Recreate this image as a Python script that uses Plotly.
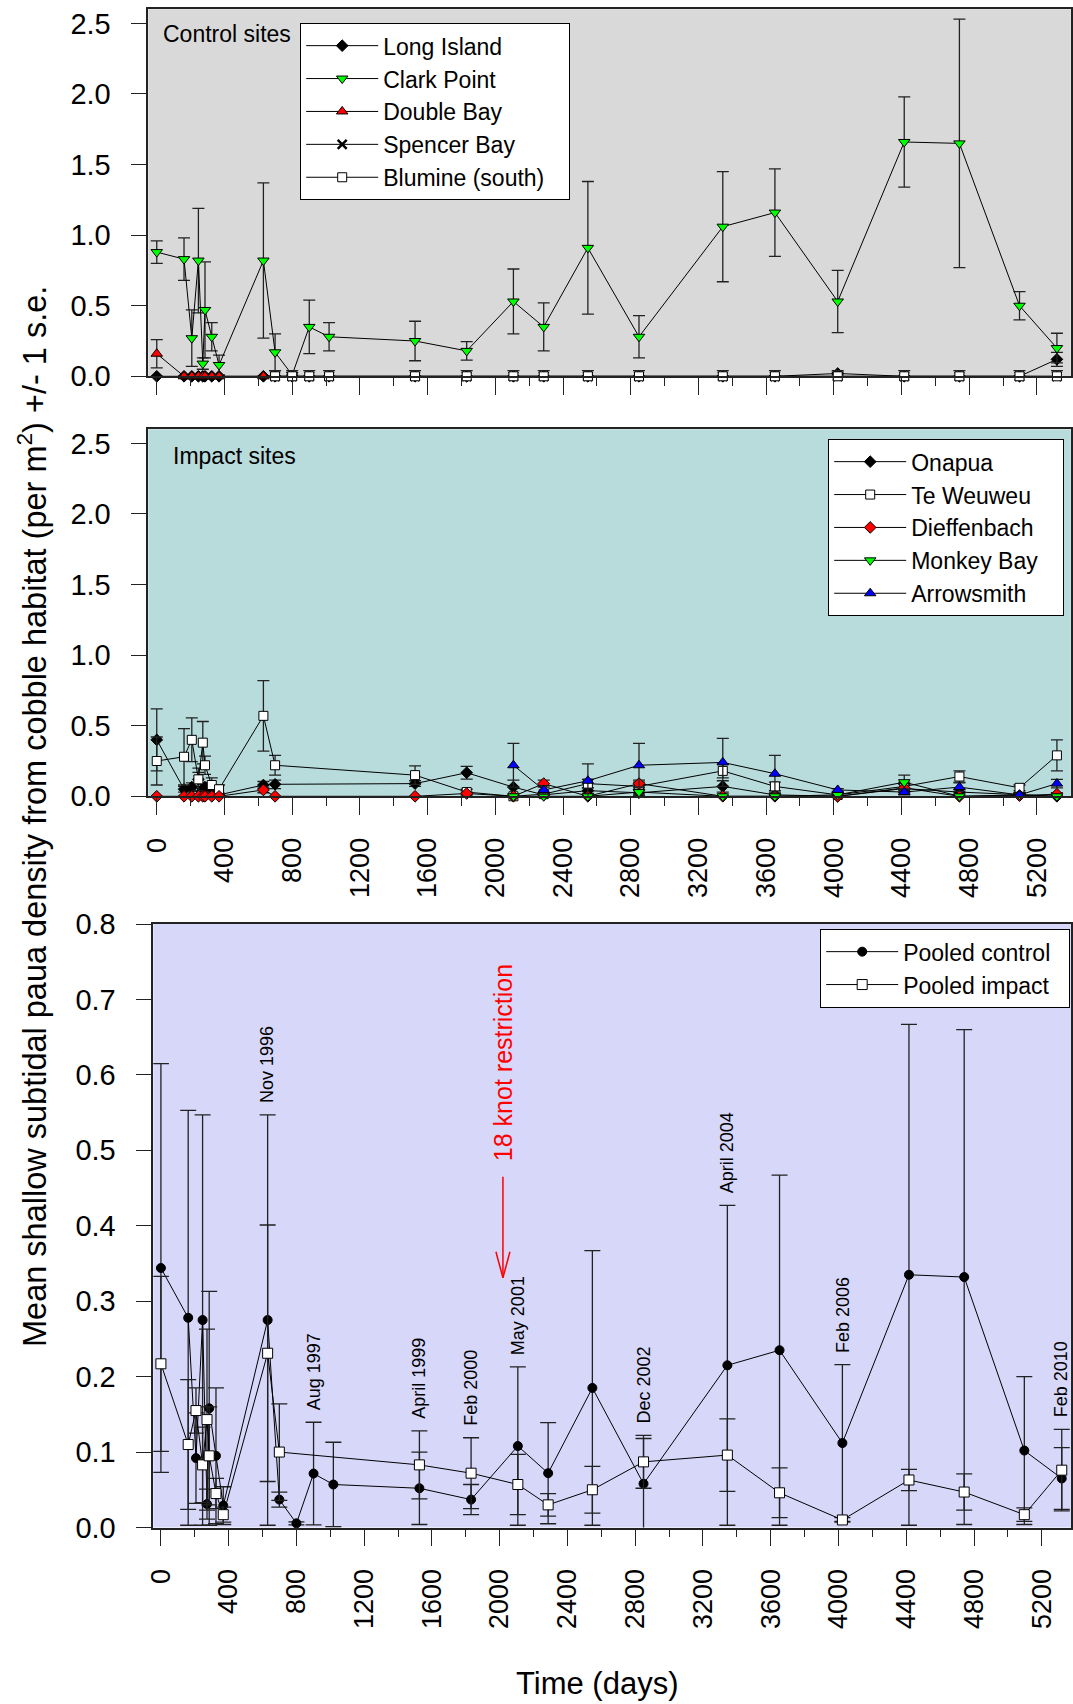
import plotly.graph_objects as go

FONT = "Liberation Sans, Arial, sans-serif"

# ---------------- data ----------------
ctrl_days = [0, 161, 207, 246, 272, 285, 325, 368, 630, 699, 800, 901, 1018, 1526, 1831,
             2107, 2286, 2547, 2849, 3344, 3652, 4023, 4416, 4742, 5097, 5318]
early_days = [0, 161, 207, 246, 272, 285, 325, 368, 630]
late_ctrl_days = [699, 800, 901, 1018, 1526, 1831, 2107, 2286, 2547, 2849, 3344, 3652,
                  4023, 4416, 4742, 5097, 5318]

long_island = [0, 0, 0, 0, 0, 0, 0, 0, 0, 0, 0, 0, 0, 0, 0, 0, 0, 0, 0, 0, 0, 0.02, 0, 0, 0, 0.12]
long_island_se = [0, 0, 0, 0, 0, 0, 0, 0, 0, 0, 0, 0, 0, 0, 0, 0, 0, 0, 0, 0, 0, 0.01, 0, 0, 0, 0.05]
clark_point = [0.88, 0.83, 0.27, 0.82, 0.09, 0.47, 0.28, 0.08, 0.82, 0.17, 0.01, 0.35, 0.28,
               0.25, 0.18, 0.53, 0.35, 0.91, 0.28, 1.06, 1.16, 0.53, 1.66, 1.65, 0.50, 0.20]
clark_point_se = [0.08, 0.15, 0.20, 0.37, 0.04, 0.34, 0.10, 0.07, 0.55, 0.13, 0.0, 0.19, 0.10,
                  0.14, 0.065, 0.23, 0.17, 0.47, 0.15, 0.39, 0.31, 0.22, 0.32, 0.88, 0.10, 0.105]
double_bay = [0.16, 0, 0, 0, 0, 0, 0, 0, 0]
double_bay_se = [0.10, 0, 0, 0, 0, 0, 0, 0, 0]
spencer_bay = [0] * 17
blumine = [0] * 17
blumine_se = [0.04] * 17

imp_days = [0, 161, 207, 246, 272, 285, 325, 368, 630, 699, 1526, 1831, 2107, 2286, 2547,
            2849, 3344, 3652, 4023, 4416, 4742, 5097, 5318]
late_imp_days = [2107, 2286, 2547, 2849, 3344, 3652, 4023, 4416, 4742, 5097, 5318]

onapua = [0.40, 0.05, 0.065, 0.12, 0.05, 0.065, 0.055, 0.01, 0.08, 0.085, 0.09, 0.167, 0.065,
          0.01, 0.04, 0.025, 0.07, 0.01, 0.0, 0.055, 0.03, 0.01, 0.0]
onapua_se = [0.22, 0.02, 0.03, 0.05, 0.02, 0.03, 0.02, 0.01, 0.025, 0.03, 0.02, 0.045, 0.05,
             0.01, 0.02, 0.02, 0.04, 0.01, 0.0, 0.03, 0.02, 0.01, 0.0]
te_weuweu = [0.25, 0.28, 0.40, 0.12, 0.38, 0.22, 0.08, 0.05, 0.57, 0.22, 0.15, 0.03, 0.0,
             0.015, 0.09, 0.07, 0.18, 0.07, 0.01, 0.07, 0.14, 0.06, 0.29]
te_weuweu_se = [0.17, 0.20, 0.155, 0.08, 0.15, 0.065, 0.05, 0.03, 0.25, 0.07, 0.065, 0.02, 0.0,
                0.01, 0.03, 0.03, 0.05, 0.03, 0.01, 0.03, 0.04, 0.02, 0.11]
dieffenbach = [0, 0, 0, 0, 0, 0, 0, 0, 0.045, 0, 0, 0.02, 0, 0.09, 0, 0.09, 0, 0, 0, 0.06, 0,
               0.005, 0.015]
dieffenbach_se = [0, 0, 0, 0, 0, 0, 0, 0, 0.02, 0, 0, 0.01, 0, 0.025, 0, 0.025, 0, 0, 0, 0.03,
                  0, 0.005, 0.01]
monkey_bay = [0, 0, 0, 0.03, 0, 0, 0.01, 0.10, 0, 0.01, 0]
monkey_bay_se = [0, 0, 0, 0.02, 0, 0, 0.01, 0.05, 0, 0.01, 0]
arrowsmith = [0.22, 0.045, 0.11, 0.22, 0.24, 0.16, 0.045, 0.03, 0.065, 0.01, 0.09]
arrowsmith_se = [0.155, 0.03, 0.12, 0.155, 0.17, 0.13, 0.01, 0.02, 0.03, 0.01, 0.03]

pooled_control = [0.344, 0.278, 0.092, 0.275, 0.031, 0.158, 0.095, 0.029, 0.275, 0.037, 0.0055,
                  0.0715, 0.057, 0.052, 0.037, 0.108, 0.072, 0.185, 0.058, 0.215, 0.235, 0.112,
                  0.335, 0.332, 0.102, 0.065]
pooled_control_se = [0.271, 0.275, 0.06, 0.272, 0.02, 0.155, 0.09, 0.025, 0.272, 0.01, 0.002,
                     0.068, 0.056, 0.048, 0.02, 0.105, 0.067, 0.182, 0.06, 0.212, 0.232, 0.104,
                     0.332, 0.328, 0.098, 0.041]
pooled_impact = [0.217, 0.11, 0.155, 0.083, 0.143, 0.095, 0.045, 0.017, 0.231, 0.1, 0.083, 0.072,
                 0.057, 0.03, 0.05, 0.087, 0.096, 0.046, 0.01, 0.063, 0.047, 0.017, 0.076]
pooled_impact_se = [0.116, 0.086, 0.03, 0.05, 0.12, 0.065, 0.02, 0.01, 0.17, 0.064, 0.045, 0.047,
                    0.04, 0.015, 0.031, 0.035, 0.048, 0.033, 0.003, 0.014, 0.024, 0.009, 0.054]

event_days = [630, 901, 1526, 1831, 2107, 2849, 3344, 4023, 5318]
event_labels = ["Nov 1996", "Aug 1997", "April 1999", "Feb 2000", "May 2001", "Dec 2002",
                "April 2004", "Feb 2006", "Feb 2010"]
restriction_day = 2019
restriction_label = "18 knot restriction"

x_ticks = list(range(0, 5201, 400))
x_minor = list(range(200, 5400, 400))
y_ticks_top = [0, 0.5, 1.0, 1.5, 2.0, 2.5]
y_ticks_bottom = [0, 0.1, 0.2, 0.3, 0.4, 0.5, 0.6, 0.7, 0.8]

# ---------------- figure ----------------
W, H = 1073, 1704
fig = go.Figure()
PAD = "\u00a0\u00a0\u00a0"
PAD2 = "\u00a0\u00a0"

def add_series(x, y, se, name, symbol, fill, size, xa, ya, legend, cap=6, mline=1):
    fig.add_trace(go.Scatter(
        x=x, y=y, name=name, mode="lines+markers", xaxis=xa, yaxis=ya, legend=legend,
        line=dict(color="black", width=1),
        marker=dict(symbol=symbol, size=size, color=fill, line=dict(color="black", width=mline)),
        error_y=dict(type="data", array=se, visible=True, color="#222", thickness=1.3, width=cap),
        cliponaxis=False,
    ))

# panel 1: control sites
add_series(ctrl_days, long_island, long_island_se, "Long Island", "diamond", "black", 9, "x", "y", "legend")
add_series(ctrl_days, clark_point, clark_point_se, "Clark Point", "triangle-down", "#00ff00", 10, "x", "y", "legend")
add_series(early_days, double_bay, double_bay_se, "Double Bay", "triangle-up", "#ff0000", 10, "x", "y", "legend")
fig.add_trace(go.Scatter(
    x=late_ctrl_days, y=spencer_bay, name="Spencer Bay", mode="lines+markers", xaxis="x", yaxis="y",
    legend="legend", line=dict(color="black", width=1),
    marker=dict(symbol="x-thin", size=9, color="black", line=dict(color="black", width=2.5)),
    cliponaxis=False))
add_series(late_ctrl_days, blumine, blumine_se, "Blumine (south)" + PAD, "square", "white", 9, "x", "y", "legend")

# panel 2: impact sites
add_series(imp_days, onapua, onapua_se, "Onapua", "diamond", "black", 9, "x2", "y2", "legend2")
add_series(imp_days, te_weuweu, te_weuweu_se, "Te Weuweu", "square", "white", 9, "x2", "y2", "legend2")
add_series(imp_days, dieffenbach, dieffenbach_se, "Dieffenbach", "diamond", "#ff0000", 9, "x2", "y2", "legend2")
add_series(late_imp_days, monkey_bay, monkey_bay_se, "Monkey Bay" + PAD, "triangle-down", "#00ff00", 10, "x2", "y2", "legend2")
add_series(late_imp_days, arrowsmith, arrowsmith_se, "Arrowsmith", "triangle-up", "#0000ff", 10, "x2", "y2", "legend2")

# panel 3: pooled
add_series(ctrl_days, pooled_control, pooled_control_se, "Pooled control" + PAD2, "circle", "black", 9, "x3", "y3", "legend3", cap=8)
add_series(imp_days, pooled_impact, pooled_impact_se, "Pooled impact", "square", "white", 10, "x3", "y3", "legend3", cap=8)

# ---------------- axes ----------------
def xaxis_cfg(domain, rng, anchor, labels):
    return dict(domain=domain, range=rng, anchor=anchor, tickvals=x_ticks,
                ticktext=[str(v) for v in x_ticks], ticks="outside", ticklen=17, tickwidth=1.3,
                tickcolor="#222", showticklabels=labels, tickangle=-90,
                tickfont=dict(family=FONT, size=27, color="black"),
                minor=dict(tickvals=x_minor, ticks="outside", ticklen=8, tickwidth=1.3, tickcolor="#222"),
                showline=True, linecolor="#222", linewidth=1.5, mirror=True,
                showgrid=False, zeroline=False, ticklabelstandoff=12, automargin=False)

def yaxis_cfg(domain, rng, anchor, vals):
    return dict(domain=domain, range=rng, anchor=anchor, tickvals=vals,
                ticktext=["%.1f" % v for v in vals], ticks="outside", ticklen=16, tickwidth=1.3,
                tickcolor="#222", tickfont=dict(family=FONT, size=29, color="black"),
                showline=True, linecolor="#222", linewidth=1.5, mirror=True,
                showgrid=False, zeroline=False, ticklabelstandoff=14, automargin=False)

p1x = [148.3 / W, 1070.8 / W]
p3x = [153.3 / W, 1070.9 / W]
fig.update_layout(
    xaxis=xaxis_cfg(p1x, [-50, 5400], "y", False),
    yaxis=yaxis_cfg([1 - 376.3 / H, 1 - 9.3 / H], [0, 2.6], "x", y_ticks_top),
    xaxis2=xaxis_cfg(p1x, [-50, 5400], "y2", True),
    yaxis2=yaxis_cfg([1 - 796.3 / H, 1 - 429.3 / H], [0, 2.6], "x2", y_ticks_top),
    xaxis3=xaxis_cfg(p3x, [-45, 5372], "y3", True),
    yaxis3=yaxis_cfg([1 - 1527.5 / H, 1 - 924 / H], [0, 0.8], "x3", y_ticks_bottom),
)

# ---------------- legends ----------------
def legend_cfg(x, y):
    return dict(x=x, y=y, xref="paper", yref="paper", xanchor="left", yanchor="top",
                bgcolor="white", bordercolor="black", borderwidth=1.2,
                font=dict(family=FONT, size=23, color="black"), itemwidth=72,
                tracegroupgap=0, traceorder="normal")

fig.update_layout(
    legend=legend_cfg(300 / W, 1 - 23 / H),
    legend2=legend_cfg(828 / W, 1 - 439 / H),
    legend3=legend_cfg(820 / W, 1 - 929 / H),
)

# ---------------- backgrounds ----------------
shapes = []
for xr, yr, col in [("x", "y", "#d9d9d9"), ("x2", "y2", "#b8dbdb"), ("x3", "y3", "#d7d7fa")]:
    shapes.append(dict(type="rect", xref=xr + " domain", yref=yr + " domain", x0=0, x1=1, y0=0, y1=1,
                       fillcolor=col, line=dict(width=0), layer="below"))

# restriction arrow
arrow_top, arrow_tip = 0.465, 0.331
shapes.append(dict(type="line", xref="x3", yref="y3", x0=restriction_day, x1=restriction_day,
                   y0=arrow_top, y1=arrow_tip, line=dict(color="red", width=1.5)))
for side in (-1, 1):
    shapes.append(dict(type="line", xref="x3", yref="y3", xsizemode="pixel", ysizemode="pixel",
                       xanchor=restriction_day, yanchor=arrow_tip, x0=7 * side, x1=0, y0=26, y1=0,
                       line=dict(color="red", width=1.5)))
fig.update_layout(shapes=shapes)

# ---------------- annotations ----------------
ann = []
ann.append(dict(text="Control sites", xref="paper", yref="paper", x=161 / W, y=1 - 34 / H,
                xanchor="left", yanchor="middle", showarrow=False,
                font=dict(family=FONT, size=23, color="black")))
ann.append(dict(text="Impact sites", xref="paper", yref="paper", x=171 / W, y=1 - 455.5 / H,
                xanchor="left", yanchor="middle", showarrow=False,
                font=dict(family=FONT, size=23, color="black")))
ann.append(dict(text="Mean shallow subtidal paua density from cobble habitat (per m<sup>2</sup>) +/- 1 s.e.",
                xref="paper", yref="paper", x=32 / W, y=1 - 817 / H, textangle=-90,
                xanchor="center", yanchor="middle", showarrow=False,
                font=dict(family=FONT, size=32.5, color="black")))
ann.append(dict(text="Time (days)", xref="paper", yref="paper", x=597 / W, y=1 - 1683 / H,
                xanchor="center", yanchor="middle", showarrow=False,
                font=dict(family=FONT, size=31, color="black")))

for d, lab in zip(event_days, event_labels):
    ci = ctrl_days.index(d)
    top = pooled_control[ci] + pooled_control_se[ci]
    if d in imp_days:
        ii = imp_days.index(d)
        top = max(top, pooled_impact[ii] + pooled_impact_se[ii])
    ann.append(dict(text=lab, xref="x3", yref="y3", x=d, y=top, yshift=10, textangle=-90,
                    xanchor="center", yanchor="bottom", showarrow=False,
                    font=dict(family=FONT, size=18, color="black")))

ann.append(dict(text=restriction_label, xref="x3", yref="y3", x=restriction_day, y=arrow_top,
                yshift=14, textangle=-90, xanchor="center", yanchor="bottom", showarrow=False,
                font=dict(family=FONT, size=25, color="red")))
fig.update_layout(annotations=ann)

fig.update_layout(width=W, height=H, margin=dict(l=0, r=0, t=0, b=0, pad=0, autoexpand=False),
                  paper_bgcolor="white", plot_bgcolor="rgba(0,0,0,0)",
                  font=dict(family=FONT, color="black"), showlegend=True)

fig.write_html("out.html")
